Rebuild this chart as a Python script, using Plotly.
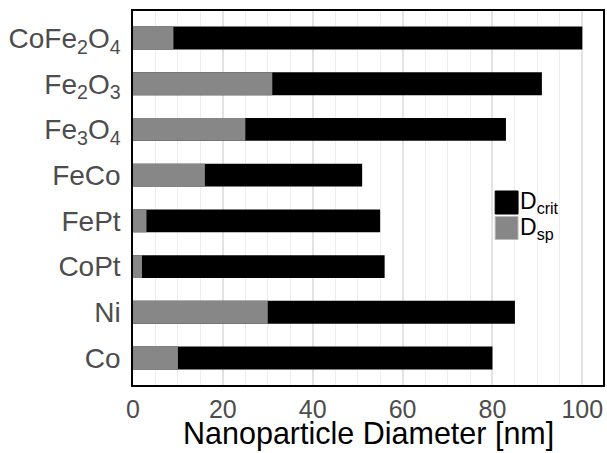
import plotly.graph_objects as go

materials = ["Co", "Ni", "CoPt", "FePt", "FeCo", "Fe<sub>3</sub>O<sub>4</sub>",
             "Fe<sub>2</sub>O<sub>3</sub>", "CoFe<sub>2</sub>O<sub>4</sub>"]
d_crit = [80, 85, 56, 55, 51, 83, 91, 100]
d_sp = [10, 30, 2, 3, 16, 25, 31, 9]
x_title = "Nanoparticle Diameter [nm]"

FONT = "Liberation Sans, Arial, sans-serif"

fig = go.Figure()
fig.add_trace(go.Bar(y=materials, x=d_crit, orientation="h", name="D<sub>crit</sub>",
                     marker=dict(color="black", line=dict(width=0)), width=0.5))
fig.add_trace(go.Bar(y=materials, x=d_sp, orientation="h", name="D<sub>sp</sub>",
                     marker=dict(color="#878787", line=dict(width=0)), width=0.5))

fig.update_layout(
    barmode="overlay",
    width=607, height=453,
    margin=dict(l=133, r=2, t=11, b=68),
    plot_bgcolor="white", paper_bgcolor="white",
    showlegend=False,
    font=dict(family=FONT),
    xaxis=dict(range=[0, 104.6], tickvals=[0, 20, 40, 60, 80, 100],
               ticks="", showgrid=True, gridcolor="#e3e3e3", gridwidth=1.6,
               minor=dict(dtick=5, showgrid=True, gridcolor="#ededed", gridwidth=1),
               tickfont=dict(size=25, color="#4d4d4d"), ticklabelstandoff=1,
               showline=True, linecolor="black", linewidth=1.5, mirror=True, zeroline=False),
    yaxis=dict(categoryorder="array", categoryarray=materials, range=[-0.59, 7.59],
               ticks="", showgrid=False, tickfont=dict(size=28, color="#4d4d4d"),
               showline=True, linecolor="black", linewidth=1.5, mirror=True, ticklabelstandoff=5),
)

# x-axis title placed at the bottom of the page
fig.add_annotation(xref="paper", yref="paper", x=(369.5 - 133) / 472, y=-(453 - 385 - 1) / 374,
                   xanchor="center", yanchor="bottom", text=x_title, showarrow=False,
                   font=dict(size=30.5, color="black"), borderpad=0)

# legend drawn manually
legend_items = [("black", "D<sub>crit</sub>"), ("#878787", "D<sub>sp</sub>")]
x0, y_top = 496.7, 191
sw = 23
for i, (col, lab) in enumerate(legend_items):
    yt = y_top + i * 25.5
    fig.add_shape(type="rect", xref="paper", yref="paper",
                  x0=(x0 - 133) / 472, x1=(x0 + sw - 133) / 472,
                  y0=1 - (yt + sw - 11) / 374, y1=1 - (yt - 11) / 374,
                  fillcolor=col, line=dict(width=1, color="#bbbbbb" if i else "black"))
    fig.add_annotation(xref="paper", yref="paper", x=(x0 + sw - 133) / 472,
                       y=1 - (yt + sw / 2 - 11) / 374, xanchor="left", yanchor="middle",
                       text=lab, showarrow=False, font=dict(size=23, color="black"))

fig.write_html("out.html")
